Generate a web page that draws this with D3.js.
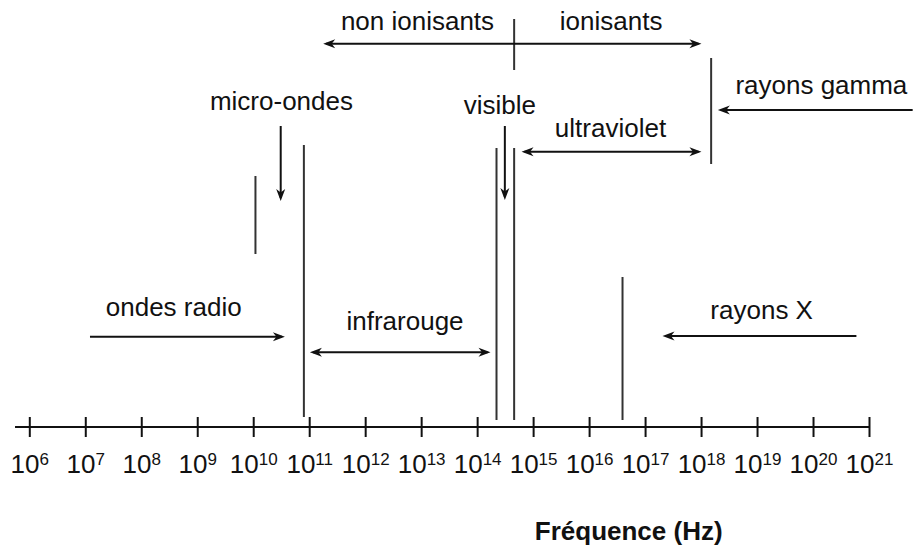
<!DOCTYPE html>
<html lang="fr">
<head>
<meta charset="UTF-8">
<title>Spectre électromagnétique</title>
<script src="https://d3js.org/d3.v7.min.js"></script>
<style>
  body { margin: 0; background: #fff; }
  svg text { font-family: Arial, "Liberation Sans", sans-serif; fill: #111; }
</style>
</head>
<body>
<svg id="chart"></svg>
<script>
// exponents of the frequency ticks (Hz = 10^e)
const tickExponents = [6, 7, 8, 9, 10, 11, 12, 13, 14, 15, 16, 17, 18, 19, 20, 21];
const axisStartExp = 5.745;

// vertical separators: log10 frequency, top / bottom height above the axis
const separators = [
  { e: 10.04, top: 251, bottom: 173 },
  { e: 10.905, top: 282, bottom: 10 },
  { e: 14.346, top: 279, bottom: 7 },
  { e: 14.661, top: 279, bottom: 7 },
  { e: 14.661, top: 408, bottom: 357 },
  { e: 16.597, top: 150, bottom: 7 },
  { e: 18.18, top: 369, bottom: 263 }
];

// horizontal arrows: from / to (log10 frequency), height, double-headed?
const hArrows = [
  { from: 11.25, to: 18.007, h: 383.3, both: true },
  { from: 21.78, to: 18.30, h: 317, both: false },
  { from: 14.793, to: 18.007, h: 275.3, both: true },
  { from: 7.084, to: 10.566, h: 90.3, both: false },
  { from: 11.013, to: 14.239, h: 74.7, both: true },
  { from: 20.775, to: 17.311, h: 91, both: false }
];

// vertical arrows pointing down
const vArrows = [
  { e: 10.491, from: 301, to: 226 },
  { e: 14.495, from: 301, to: 227 }
];

// region labels: start position (log10 frequency) and baseline height
const labels = [
  { text: "non ionisants", e: 11.566, h: 397 },
  { text: "ionisants", e: 15.477, h: 397 },
  { text: "micro-ondes", e: 9.227, h: 317 },
  { text: "visible", e: 13.762, h: 313 },
  { text: "ultraviolet", e: 15.388, h: 290 },
  { text: "rayons gamma", e: 18.613, h: 333 },
  { text: "ondes radio", e: 7.366, h: 111 },
  { text: "infrarouge", e: 11.666, h: 97 },
  { text: "rayons X", e: 18.166, h: 108 }
];

const axisTitle = "Fréquence (Hz)";

const width = 918;
const height = 548;
const axisY = 427;

const svg = d3.select("#chart")
  .attr("width", width)
  .attr("height", height);

const x = d3.scaleLog().domain([1e6, 1e21]).range([29.3, 869]);
const y = d3.scaleLinear().domain([0, axisY]).range([axisY, 0]);
const fx = e => x(Math.pow(10, e));

svg.append("defs").append("marker")
  .attr("id", "head")
  .attr("viewBox", "-14 -6 15 12")
  .attr("markerWidth", 15)
  .attr("markerHeight", 12)
  .attr("markerUnits", "userSpaceOnUse")
  .attr("refX", -3)
  .attr("refY", 0)
  .attr("orient", "auto-start-reverse")
  .append("path")
  .attr("d", "M0,0 L-12,-4.5 L-8.5,0 L-12,4.5 Z")
  .attr("fill", "#111");

// axis
const axisG = svg.append("g")
  .attr("transform", `translate(0,${axisY})`)
  .call(d3.axisBottom(x)
    .tickValues(tickExponents.map(e => Math.pow(10, e)))
    .tickFormat("")
    .tickSize(10));

axisG.select(".domain").remove();
axisG.selectAll(".tick line")
  .attr("y1", -10)
  .attr("y2", 10)
  .attr("stroke", "#111")
  .attr("stroke-width", 2);

axisG.insert("line", ":first-child")
  .attr("x1", fx(axisStartExp))
  .attr("x2", fx(tickExponents[tickExponents.length - 1]))
  .attr("stroke", "#111")
  .attr("stroke-width", 2);

const tickText = axisG.selectAll(".tick")
  .append("text")
  .attr("y", 46)
  .attr("text-anchor", "middle")
  .attr("font-size", 26)
  .attr("fill", "#111");
tickText.append("tspan").text("10");
tickText.append("tspan")
  .attr("font-size", 17)
  .attr("dy", -8)
  .text((d, i) => tickExponents[i]);

// separators
svg.selectAll(".sep")
  .data(separators)
  .join("line")
  .attr("class", "sep")
  .attr("x1", d => fx(d.e))
  .attr("x2", d => fx(d.e))
  .attr("y1", d => y(d.top))
  .attr("y2", d => y(d.bottom))
  .attr("stroke", "#333")
  .attr("stroke-width", 2);

// horizontal arrows (shortened by 3px at headed ends, marker tip lands on the point)
svg.selectAll(".harrow")
  .data(hArrows)
  .join("line")
  .attr("class", "harrow")
  .each(function (d) {
    const x1 = fx(d.from), x2 = fx(d.to);
    const dir = Math.sign(x2 - x1);
    d3.select(this)
      .attr("x1", d.both ? x1 + dir * 3 : x1)
      .attr("x2", x2 - dir * 3)
      .attr("y1", y(d.h))
      .attr("y2", y(d.h))
      .attr("marker-end", "url(#head)")
      .attr("marker-start", d.both ? "url(#head)" : null);
  })
  .attr("stroke", "#111")
  .attr("stroke-width", 2);

svg.selectAll(".varrow")
  .data(vArrows)
  .join("line")
  .attr("class", "varrow")
  .attr("x1", d => fx(d.e))
  .attr("x2", d => fx(d.e))
  .attr("y1", d => y(d.from))
  .attr("y2", d => y(d.to) - 3)
  .attr("marker-end", "url(#head)")
  .attr("stroke", "#111")
  .attr("stroke-width", 2);

// labels
svg.selectAll(".label")
  .data(labels)
  .join("text")
  .attr("class", "label")
  .attr("x", d => fx(d.e))
  .attr("y", d => y(d.h))
  .attr("font-size", 26)
  .text(d => d.text);

svg.append("text")
  .attr("x", fx(15.03))
  .attr("y", 540)
  .attr("font-size", 26)
  .attr("font-weight", "bold")
  .text(axisTitle);
</script>
</body>
</html>
